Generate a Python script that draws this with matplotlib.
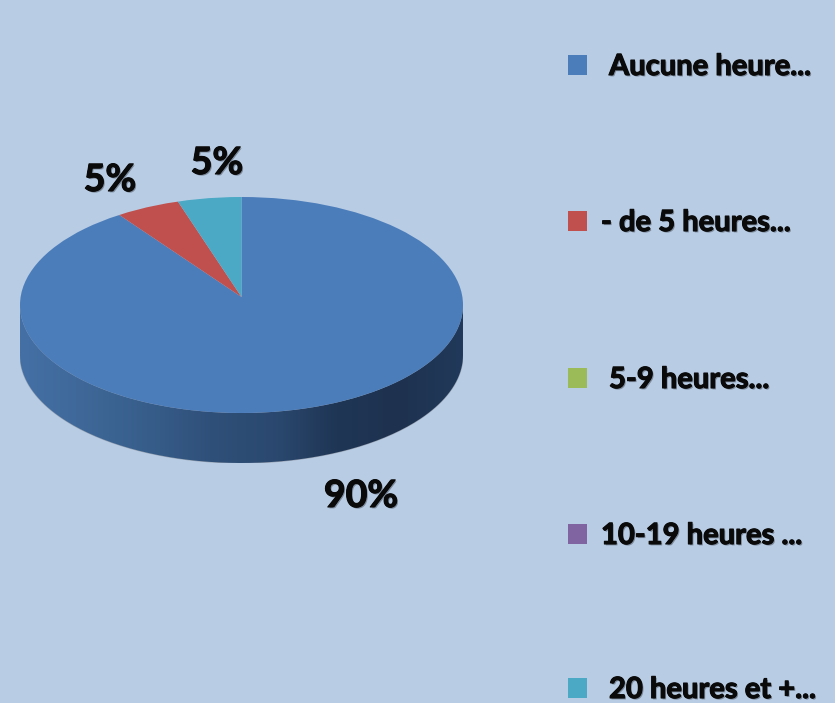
import numpy as np
import matplotlib
matplotlib.use('Agg')
import matplotlib.pyplot as plt
import matplotlib.patheffects as pe
from matplotlib.colors import LinearSegmentedColormap
from matplotlib.patches import Ellipse, PathPatch, Rectangle
from matplotlib.path import Path

labels = ['Aucune heure...', '- de 5 heures...', '5-9 heures...', '10-19 heures ...', '20 heures et +...']
values = [90, 5, 0, 0, 5]
colors = ['#4C7DBB', '#C0504D', '#9BBB59', '#8064A2', '#4BA9C5']
pct_labels = ['90%', '5%', '', '', '5%']
bg = '#B8CCE4'

W, H = 835, 703
fig = plt.figure(figsize=(W/100, H/100), dpi=100, facecolor=bg)
plt.rcParams['font.family'] = ['Lato', 'DejaVu Sans']

# pie ellipse in pixels: centre (241,305), radii 221 x 108, depth 50
depth = 50/108
apex = 8/108  # perspective: the slices meet above the middle of the ellipse
ax = fig.add_axes([20/W, 1-(413+50)/H, 443/W, (216+50)/H])
wedges, _ = ax.pie(values, colors=colors, startangle=90, counterclock=False, radius=1.3,
                   center=(0, apex), wedgeprops={'linewidth': 0})
ax.set_aspect('auto')
ax.set_xlim(-1, 1)
ax.set_ylim(-1-depth, 1)
top = Ellipse((0, 0), 2, 2, transform=ax.transData, facecolor='none', edgecolor='none')
ax.add_patch(top)
for w in wedges:
    w.set_zorder(3)
    w.set_clip_on(True)  # pie turns clipping off
    w.set_clip_path(top)

# side wall of the disc
t = np.linspace(np.pi, 2*np.pi, 200)
xs = np.concatenate([np.cos(t), np.cos(t)[::-1]])
ys = np.concatenate([np.sin(t)-depth, np.sin(t)[::-1]])
wall = PathPatch(Path(np.column_stack([xs, ys])), facecolor='none', edgecolor='#9aa5b3',
                 linewidth=0.8, zorder=1)
ax.add_patch(wall)
cmap = LinearSegmentedColormap.from_list('wall', ['#4470A6', '#3F6898', '#375E8B', '#2F5079', '#2B4970', '#1F3655', '#1E324F', '#21395A'])
im = ax.imshow(np.linspace(0, 1, 256).reshape(1, -1), cmap=cmap, extent=[-1, 1, -1-depth, 1],
               aspect='auto', zorder=2)
im.set_clip_path(wall)
ax.set_xlim(-1, 1)
ax.set_ylim(-1-depth, 1)

shadow = [pe.withSimplePatchShadow(offset=(1, -1), shadow_rgbFace='#555f6c', alpha=0.6),
          pe.withStroke(linewidth=0.8, foreground='#0a0a0a')]

# percent labels, figure pixel positions
pct_pos = [(361, 496), (110, 180), None, None, (217, 163)]
for lab, pos in zip(pct_labels, pct_pos):
    if pos:
        fig.text(pos[0]/W, 1-pos[1]/H, lab, fontsize=27, fontweight='bold', color='#0a0a0a',
                 ha='center', va='center', path_effects=shadow)

# legend
leg_y = [67, 223, 380, 536, 690]
leg_x = [609, 601, 609, 601, 609]
for lab, col, y, x in zip(labels, colors, leg_y, leg_x):
    fig.add_artist(Rectangle((568/W, 1-(y+8)/H), 19/W, 20/H, transform=fig.transFigure,
                             facecolor=col, edgecolor='none'))
    fig.text(x/W, 1-y/H, lab, fontsize=21, fontweight='bold', color='#0a0a0a',
             ha='left', va='center', path_effects=shadow)

fig.savefig('out.png', dpi=100, facecolor=bg)
